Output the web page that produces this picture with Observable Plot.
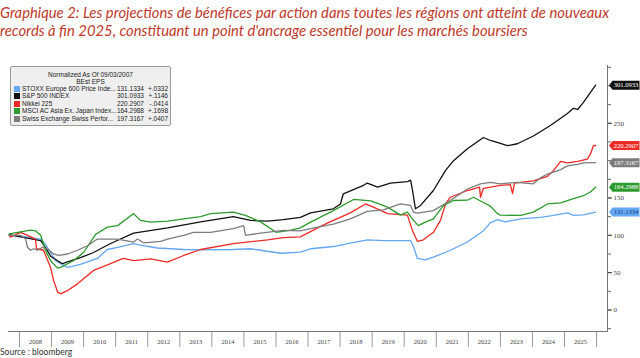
<!DOCTYPE html>
<html><head><meta charset="utf-8">
<script src="https://cdn.jsdelivr.net/npm/d3@7"></script>
<script src="https://cdn.jsdelivr.net/npm/@observablehq/plot@0.6"></script>
<style>
body{margin:0;width:640px;height:358px;position:relative;background:#fff;overflow:hidden}
#title{position:absolute;left:0;top:3px;font-family:Lato;font-style:italic;font-size:14.8px;line-height:18px;color:#c0392b;white-space:nowrap}
#chart{position:absolute;left:0;top:40px}
#legend{position:absolute;left:10px;top:66px;width:161px;height:60px;background:#efefef;border:1px solid #9a9a9a;border-radius:2px;font-family:"Liberation Sans";font-size:6.5px;color:#222;box-sizing:border-box}
#legend .h{position:absolute;left:0;width:100%;text-align:center;line-height:7px}
#legend .r{position:absolute;left:0;width:100%;height:7.5px;line-height:7.5px}
#legend .sw{position:absolute;left:3px;top:0.75px;width:6px;height:6px}
#legend .n{position:absolute;left:11px}
#legend .v{position:absolute;right:26px}
#legend .c{position:absolute;right:2px}
#source{position:absolute;left:0;top:347px;font-family:Lato;font-size:8.5px;color:#333}
</style></head><body>
<div id="title">Graphique 2: Les projections de bénéfices par action dans toutes les régions ont atteint de nouveaux<br>records à fin 2025, constituant un point d'ancrage essentiel pour les marchés boursiers</div>
<div id="chart"></div>
<div id="legend"></div>
<div id="source">Source : bloomberg</div>
<script>
// ---- data (decimal year, normalized value) ----
const stoxx = [[2007.68,100],[2008.03,99],[2008.66,95],[2008.81,88],[2009.12,66],[2009.5,57],[2009.9,61],[2010.43,69],[2010.74,81],[2011.06,84],[2011.56,89],[2011.77,87],[2012.3,83],[2013.12,81],[2013.65,80.5],[2014.67,81],[2015.21,82],[2016.14,76],[2016.76,77.5],[2017.08,82],[2017.79,85],[2018.32,89.5],[2018.85,94],[2019.35,93],[2020.2,93],[2020.29,85],[2020.41,69],[2020.66,67],[2020.91,70.7],[2021.44,80],[2021.97,91],[2022.47,106],[2022.69,117],[2022.91,121],[2023.16,118],[2023.63,122],[2024.25,124],[2024.66,126.6],[2025.09,130],[2025.28,126.6],[2025.59,127.5],[2025.97,131.1334]];
const sp500 = [[2007.68,101],[2008.03,98],[2008.66,93],[2008.81,84],[2008.97,72],[2009.34,62],[2009.9,70],[2010.31,77],[2010.84,89],[2011.56,103],[2012.62,110],[2013.65,118],[2014.67,125],[2014.99,122],[2015.21,120],[2015.74,119],[2016.23,121],[2016.76,124],[2017.08,130],[2017.79,135.5],[2018.01,142],[2018.1,155.6],[2018.73,167],[2018.85,170],[2019.17,164.5],[2019.57,170],[2020.1,172],[2020.2,174],[2020.26,160],[2020.35,135.5],[2020.51,140],[2020.91,160],[2021.29,187],[2021.54,200],[2021.97,216],[2022.47,231],[2022.69,227],[2023.0,223],[2023.22,220],[2023.53,222.6],[2024.03,233],[2024.56,247],[2025.09,263],[2025.28,270],[2025.41,268.5],[2025.59,278],[2025.97,301.0933]];
const nikkei = [[2007.68,100],[2007.72,97.5],[2008.03,104],[2008.25,100],[2008.5,95],[2008.53,82],[2008.75,80],[2008.97,57],[2009.06,40],[2009.19,24],[2009.28,21.7],[2009.5,26],[2009.81,35],[2010.31,53],[2010.84,62],[2011.06,66],[2011.24,69],[2011.56,66],[2012.09,68.5],[2012.62,64],[2013.12,73],[2013.65,81],[2014.67,89],[2015.74,94],[2016.23,97],[2016.76,98],[2017.08,105],[2017.39,112],[2017.79,120],[2018.32,130],[2018.79,142],[2019.04,137.7],[2019.48,129],[2020.1,127],[2020.26,106],[2020.41,92],[2020.6,94],[2020.91,104],[2021.13,120],[2021.29,142],[2021.44,151],[2021.97,160],[2022.35,164.5],[2022.38,151],[2022.47,163],[2022.69,164.5],[2023.0,167],[2023.31,168],[2023.38,156],[2023.44,170],[2024.03,173],[2024.47,179],[2024.66,187],[2024.88,199],[2025.09,197],[2025.41,199],[2025.71,202],[2025.81,209],[2025.9,220],[2025.97,220.2907]];
const msciAsia = [[2007.68,102],[2008.34,107],[2008.5,106],[2008.66,100],[2008.81,80],[2008.97,66],[2009.19,56],[2009.28,57],[2009.68,66],[2010.0,77],[2010.37,101],[2010.74,111],[2011.06,113],[2011.46,126],[2011.56,129],[2011.77,120],[2012.09,117.6],[2012.62,119],[2013.12,122],[2013.65,125],[2013.96,129],[2014.67,131],[2015.05,126.6],[2015.52,118],[2016.0,104],[2016.47,107],[2016.76,110],[2017.08,117.6],[2017.79,133],[2018.42,148],[2018.96,146],[2019.48,137.7],[2019.88,127],[2020.1,131],[2020.29,120],[2020.44,113],[2020.66,117.6],[2020.91,122],[2021.23,140],[2021.54,146.6],[2021.97,147],[2022.16,151],[2022.47,144],[2022.69,139],[2022.91,129],[2023.0,127],[2023.63,126.6],[2024.03,131],[2024.47,142],[2024.88,143.5],[2025.28,149],[2025.59,153],[2025.81,158],[2025.97,164.2988]];
const swiss = [[2007.68,100],[2008.03,100],[2008.19,95],[2008.25,84],[2008.34,80],[2008.44,82],[2008.56,80],[2008.72,84],[2008.87,82],[2009.06,75],[2009.22,73],[2009.5,75],[2009.81,80],[2010.12,86],[2010.43,95],[2011.06,95],[2011.56,91],[2011.68,95],[2011.87,90],[2012.4,92],[2012.62,95],[2013.12,100],[2013.43,104],[2013.96,104],[2014.67,109],[2014.99,113],[2015.05,100],[2015.52,103],[2016.23,106.5],[2016.76,106],[2017.08,109],[2017.79,115],[2018.32,122],[2018.85,132],[2019.35,134],[2019.88,142],[2020.2,140],[2020.29,131],[2020.41,129.6],[2020.91,133],[2021.44,146.6],[2021.97,162],[2022.38,169],[2022.69,171],[2023.0,169],[2023.53,171],[2024.03,169],[2024.25,177],[2024.47,182],[2024.88,188],[2025.09,193],[2025.41,195],[2025.59,197],[2025.97,197.3167]];

const seriesNames = ["STOXX Europe 600 Price Inde...","S&P 500 INDEX","Nikkei 225","MSCI AC Asia Ex. Japan Index...","Swiss Exchange Swiss Perfor..."];
const seriesColors = ["#63a6f2","#111111","#ee2a24","#2c9a2c","#7c7c7c"];
const lastValues = [131.1334,301.0933,220.2907,164.2988,197.3167];
const changes = ["+.0332","+.1146","-.0414","+.1698","+.0407"];
const tagTextColors = ["#1b3c7a","#ffffff","#ffffff","#ffffff","#ffffff"];
const seriesData = [stoxx, sp500, nikkei, msciAsia, swiss];
const yearTicks = d3.range(2008, 2027);
const yLabelTicks = [0,50,100,150,250];
const yMinorTicks = d3.range(-25, 326, 25);
const legendTitle = ["Normalized As Of 09/03/2007","BEst EPS"];

// ---- build table ----
const rows = seriesData.flatMap((arr, i) => arr.map(([year, value]) => ({series: seriesNames[i], year, value})));
const lastPts = seriesNames.map((s, i) => ({series: s, value: lastValues[i], label: lastValues[i].toFixed(4), tc: tagTextColors[i]}));

const tag = {draw(ctx){ctx.moveTo(0,0);ctx.lineTo(3.5,-4.5);ctx.lineTo(30.5,-4.5);ctx.lineTo(30.5,4.5);ctx.lineTo(3.5,4.5);ctx.closePath();}};

const plot = Plot.plot({
  width: 640, height: 310,
  marginLeft: 8, marginRight: 33, marginTop: 25, marginBottom: 19,
  x: {domain: [2007.657, 2026.341], label: null},
  y: {domain: [-28.8, 327.4], label: null},
  color: {domain: seriesNames, range: seriesColors},
  style: {fontFamily: "Liberation Serif", fontSize: "7px", color: "#444", background: "transparent", overflow: "visible"},
  marks: [
    Plot.axisX({ticks: yearTicks, tickSize: 16, tickFormat: () => "", stroke: "#999", label: null}),
    Plot.axisX({ticks: yearTicks.slice(0, -1).map(y => y + 0.5), tickSize: 0, tickPadding: 8, tickFormat: d => String(Math.floor(d)), fontSize: 6.5, label: null}),
    Plot.axisY({anchor: "right", ticks: yMinorTicks, tickSize: 3, tickFormat: () => "", stroke: "#666", label: null}),
    Plot.axisY({anchor: "right", ticks: yLabelTicks, tickSize: 4, tickPadding: 2, label: null}),
    Plot.frame({anchor: "bottom", stroke: "#777"}),
    Plot.frame({anchor: "right", stroke: "#777"}),
    Plot.line(rows, {x: "year", y: "value", z: "series", stroke: "series", strokeWidth: 1.3, strokeLinejoin: "round"}),
    Plot.dot(lastPts, {frameAnchor: "right", y: "value", fill: "series", symbol: tag, r: 5, dx: 1.5}),
    Plot.text(lastPts, {frameAnchor: "right", y: "value", text: "label", dx: 18.5, textAnchor: "middle", fill: d => d.tc, fontSize: 6.6})
  ]
});
document.getElementById("chart").appendChild(plot);

// ---- legend ----
const lg = d3.select("#legend");
legendTitle.forEach((t, i) => lg.append("div").attr("class", "h").style("top", (3.5 + i * 7) + "px").text(t));
seriesNames.forEach((s, i) => {
  const r = lg.append("div").attr("class", "r").style("top", (17.8 + i * 7.5) + "px");
  r.append("div").attr("class", "sw").style("background", seriesColors[i]);
  r.append("span").attr("class", "n").text(s);
  r.append("span").attr("class", "v").text(lastValues[i].toFixed(4));
  r.append("span").attr("class", "c").text(changes[i]);
});
</script>
</body></html>
